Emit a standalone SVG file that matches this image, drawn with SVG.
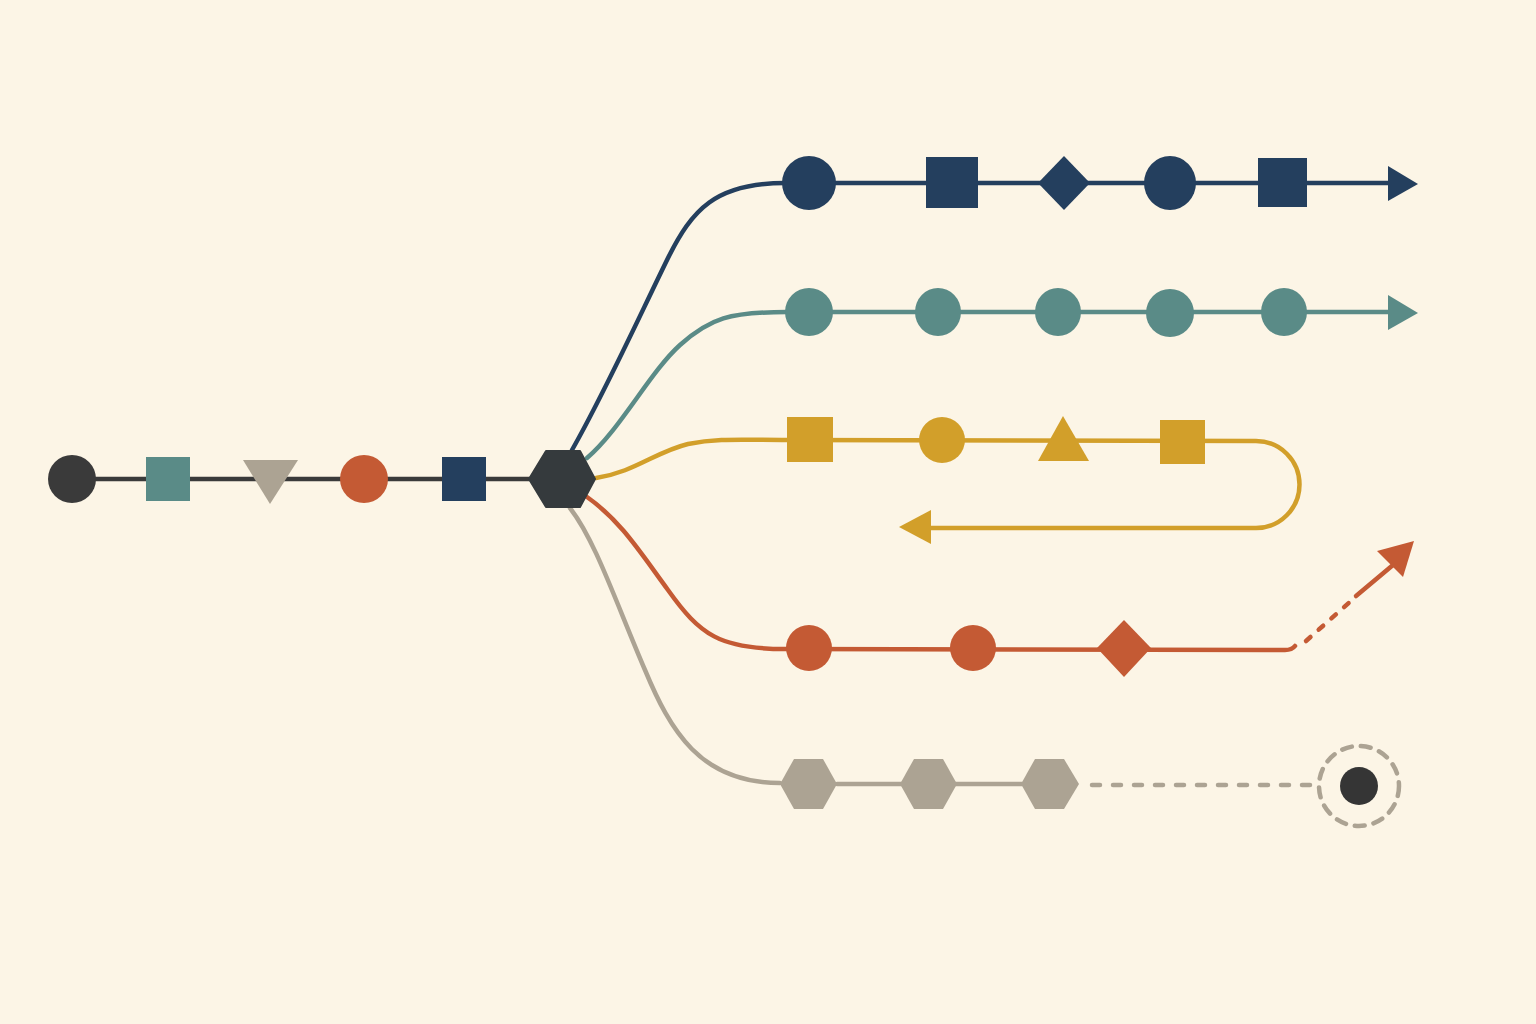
<svg xmlns="http://www.w3.org/2000/svg" width="1536" height="1024" viewBox="0 0 1536 1024">
<style>
.ln{fill:none;stroke-width:4.5;stroke-linecap:round}
.navy{fill:#243f5e}.teal{fill:#5a8b87}.yel{fill:#d29f2a}.org{fill:#c45a34}.gry{fill:#aca393}.drk{fill:#3a3a3a}
</style>
<rect width="1536" height="1024" fill="#fcf5e6"/>
<g id="connectors">
<path class="ln" stroke="#3a3a3a" d="M72,479 L540,479"/>
<path class="ln" stroke="#243f5e" d="M572,450 C605,392 640,315 668,258 C692,210 715,183 785,183 L1392,183"/>
<path class="ln" stroke="#5a8b87" d="M587,458 C620,430 650,372 680,345 C710,318 730,312 787,312 L1392,312"/>
<path class="ln" stroke="#d29f2a" d="M596,478 C635,472 655,452 688,444 C718,438 740,440 787,440 L1256,441 A43.5,43.5 0 0 1 1256,528 L928,528"/>
<path class="ln" stroke="#c45a34" d="M587,497 C620,520 640,552 668,590 C700,635 720,649 785,649 L1285,650 Q1292,650 1295,646"/>
<path class="ln" stroke="#c45a34" stroke-width="5.5" stroke-dasharray="6 11" d="M1306,641 L1352,600"/>
<path class="ln" stroke="#c45a34" d="M1356,596 L1393,565"/>
<path class="ln" stroke="#aca393" d="M570,508 C595,540 615,600 645,670 C670,730 700,783 780,783"/>
<path class="ln" stroke="#aca393" d="M837,784 L1022,784"/>
<path class="ln" stroke="#aca393" stroke-width="6" stroke-dasharray="8 13" d="M1092,785 L1310,785"/>
<polygon class="navy" points="1388,166 1418,184 1388,201"/>
<polygon class="teal" points="1388,295 1418,313 1388,330"/>
<polygon class="yel" points="931,510 899,527 931,544"/>
<polygon class="org" points="1377,551 1414,541 1403,577"/>
</g>
<g id="n-start"><circle class="drk" cx="72" cy="479" r="24"/></g>
<g id="n-l2"><rect class="teal" x="146" y="457" width="44" height="44"/></g>
<g id="n-l3"><polygon class="gry" points="243,460 298,460 270,504"/></g>
<g id="n-l4"><circle class="org" cx="364" cy="479" r="24"/></g>
<g id="n-l5"><rect class="navy" x="442" y="457" width="44" height="44"/></g>
<g id="n-hub"><polygon fill="#353a3d" stroke="#353a3d" stroke-width="2" stroke-linejoin="round" points="529,479 546,451 580,451 595,479 580,507 546,507"/></g>
<g id="row-navy">
<circle class="navy" cx="809" cy="183" r="27"/>
<rect class="navy" x="926" y="157" width="52" height="51"/>
<polygon class="navy" points="1064,156 1090,183 1064,210 1038,183"/>
<ellipse class="navy" cx="1170" cy="183" rx="26" ry="27"/>
<rect class="navy" x="1258" y="158" width="49" height="49"/>
</g>
<g id="row-teal">
<ellipse class="teal" cx="809" cy="312" rx="24" ry="24"/>
<ellipse class="teal" cx="938" cy="312" rx="23" ry="24"/>
<ellipse class="teal" cx="1058" cy="312" rx="23" ry="24"/>
<ellipse class="teal" cx="1170" cy="313" rx="24" ry="24"/>
<ellipse class="teal" cx="1284" cy="312" rx="23" ry="24"/>
</g>
<g id="row-yellow">
<rect class="yel" x="787" y="417" width="46" height="45"/>
<circle class="yel" cx="942" cy="440" r="23"/>
<polygon class="yel" points="1063,416 1089,461 1038,461"/>
<rect class="yel" x="1160" y="420" width="45" height="44"/>
</g>
<g id="row-orange">
<circle class="org" cx="809" cy="648" r="23"/>
<circle class="org" cx="973" cy="648" r="23"/>
<polygon class="org" points="1124,620 1151,648 1124,677 1097,648"/>
</g>
<g id="row-gray">
<polygon class="gry" points="780,784 794,759 823,759 837,784 823,809 794,809"/>
<polygon class="gry" points="900,784 914,759 943,759 957,784 943,809 914,809"/>
<polygon class="gry" points="1021,784 1035,759 1064,759 1079,784 1064,809 1035,809"/>
</g>
<g id="n-end">
<circle cx="1359" cy="786" r="40" fill="none" stroke="#aca393" stroke-width="4.5" stroke-dasharray="10 9" stroke-linecap="round"/>
<circle fill="#353535" cx="1359" cy="786" r="19"/>
</g>
</svg>
